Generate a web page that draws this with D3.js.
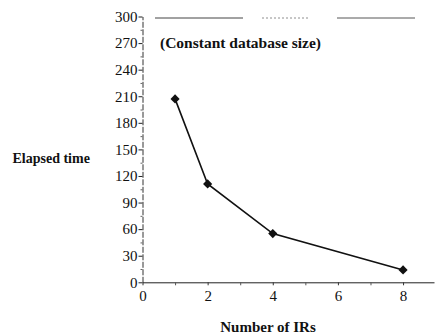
<!DOCTYPE html>
<html><head><meta charset="utf-8">
<script src="https://cdn.jsdelivr.net/npm/d3@7"></script>
<style>body{margin:0;background:#fff}svg{display:block}</style>
</head><body>
<svg id="c" width="436" height="335"></svg>
<script>
const irs = [1, 2, 4, 8];
const elapsed = [207, 111, 55, 14];
const xTicks = [0, 2, 4, 6, 8];
const xMinor = [1, 3, 5, 7];
const yTicks = [0, 30, 60, 90, 120, 150, 180, 210, 240, 270, 300];
const yMinor = [15, 45, 75, 105, 135, 165, 195, 225, 255, 285];
const title = "(Constant database size)";
const xLabel = "Number of IRs";
const yLabel = "Elapsed time";

const svg = d3.select("#c");
const font = "'Liberation Serif', 'Times New Roman', serif";
const x = d3.scaleLinear().domain([0, 8.95]).range([142.5, 434]);
const y = d3.scaleLinear().domain([0, 300]).range([282.3, 16.5]);

// x axis
const gx = svg.append("g").attr("transform", `translate(0,${y(0)})`)
  .call(d3.axisBottom(x).tickValues(xTicks).tickSize(3).tickSizeOuter(0).tickPadding(5));
gx.attr("font-family", font);
gx.select(".domain").attr("stroke", "#222");
gx.selectAll(".tick line").attr("stroke", "#333");
gx.selectAll("text").style("font-family", font).attr("font-size", 15).attr("fill", "#111");
svg.append("g").attr("transform", `translate(0,${y(0)})`)
  .call(d3.axisBottom(x).tickValues(xMinor).tickSize(3).tickFormat(""))
  .call(g => g.select(".domain").remove())
  .selectAll(".tick line").attr("stroke", "#555");

// y axis
const gy = svg.append("g").attr("transform", `translate(${x(0)},0)`)
  .call(d3.axisLeft(y).tickValues(yTicks).tickSize(4).tickSizeOuter(0).tickPadding(1));
gy.attr("font-family", font);
gy.select(".domain").attr("stroke", "#333").attr("stroke-dasharray", "6,1.5");
gy.selectAll(".tick line").attr("stroke", "#222");
gy.selectAll("text").style("font-family", font).attr("font-size", 15).attr("fill", "#111");
svg.append("g").attr("transform", `translate(${x(0)},0)`)
  .call(d3.axisLeft(y).tickValues(yMinor).tickSize(2).tickFormat(""))
  .call(g => g.select(".domain").remove())
  .selectAll(".tick line").attr("stroke", "#666");

// top broken frame line
const topSegs = [[155, 243, "none", 1], [262, 308, "2,2", 0.6], [337, 415, "none", 0.9]];
svg.append("g").selectAll("line").data(topSegs).join("line")
  .attr("x1", d => d[0]).attr("x2", d => d[1])
  .attr("y1", y(300) + 1.5).attr("y2", y(300) + 1.5)
  .attr("stroke", "#444").attr("stroke-width", 1)
  .attr("stroke-dasharray", d => d[2]).attr("opacity", d => d[3]);

// line + markers
const pts = irs.map((d, i) => [d, elapsed[i]]);
svg.append("path").datum(pts)
  .attr("d", d3.line().x(d => x(d[0])).y(d => y(d[1])))
  .attr("fill", "none").attr("stroke", "#111").attr("stroke-width", 1.6);
svg.append("g").selectAll("path").data(pts).join("path")
  .attr("d", d3.symbol().type(d3.symbolSquare).size(42))
  .attr("transform", d => `translate(${x(d[0])},${y(d[1])}) rotate(45)`)
  .attr("fill", "#111");

// texts
svg.append("text").attr("x", 160).attr("y", 48)
  .style("font-family", font).attr("font-weight", "bold").attr("font-size", 15.5)
  .attr("fill", "#111").text(title);
svg.append("text").attr("x", 12.5).attr("y", 163)
  .style("font-family", font).attr("font-weight", "bold").attr("font-size", 14)
  .attr("fill", "#111").text(yLabel);
svg.append("text").attr("x", 268).attr("y", 332).attr("text-anchor", "middle")
  .style("font-family", font).attr("font-weight", "bold").attr("font-size", 15)
  .attr("fill", "#111").text(xLabel);
</script>
</body></html>
